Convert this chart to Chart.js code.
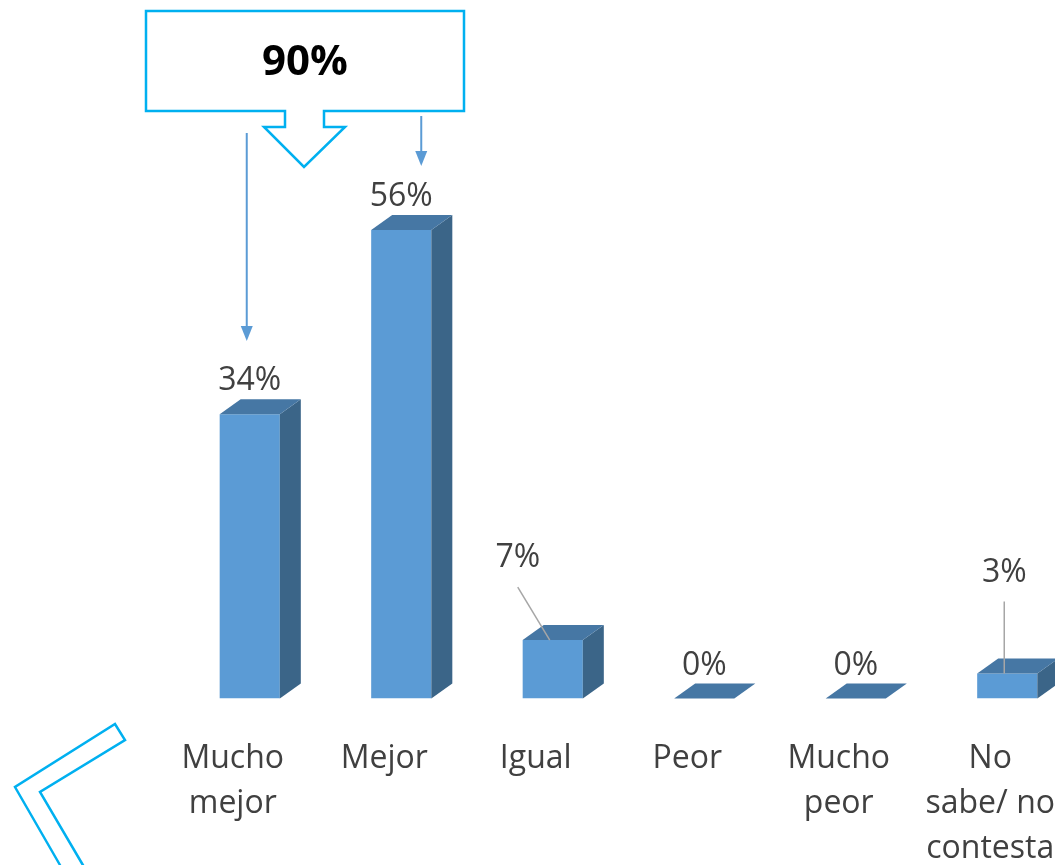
<!DOCTYPE html>
<html>
<head>
<meta charset="utf-8">
<script src="https://cdn.jsdelivr.net/npm/chart.js@4"></script>
<style>
    html, body { margin: 0; padding: 0; background: #ffffff; overflow: hidden; }
    #wrap { position: relative; width: 1055px; height: 865px; overflow: hidden; }
    #opinion-chart { position: absolute; left: 0; top: 0; }
</style>
</head>
<body>
<div id="wrap">
    <canvas id="opinion-chart" width="1110" height="909"></canvas>
</div>
<script>
// Categories and percentages
const categories = [
    ['Mucho', 'mejor'],
    'Mejor',
    'Igual',
    'Peor',
    ['Mucho', 'peor'],
    ['No', 'sabe/ no', 'contesta']
];
const percentages = [34, 56, 7, 0, 0, 3];

// Callout sums the two positive answers
const calloutValue = percentages[0] + percentages[1];

const FRONT = '#5b9bd5';
const SIDE = '#3b6588';
const TOP = '#4677a4';
const TEXT = '#404040';
const CYAN = '#00b0f0';
const DEPTH_X = 21;
const DEPTH_Y = 15;

// labels that sit higher with a leader line: [dx, extra lift]
const raisedLabels = { 2: [-35, 49], 5: [-3, 68] };

const bars3d = {
    id: 'bars3d',
    afterDatasetsDraw: function(chart) {
        const ctx = chart.ctx;
        const meta = chart.getDatasetMeta(0);
        ctx.save();
        meta.data.forEach(function(bar, i) {
            const p = bar.getProps(['x', 'y', 'base', 'width'], true);
            const left = p.x - p.width / 2;
            const right = p.x + p.width / 2;
            const top = Math.min(p.y, p.base);
            const bottom = p.base;

            // side face
            if (bottom - top > 0.5) {
                ctx.fillStyle = SIDE;
                ctx.beginPath();
                ctx.moveTo(right, top);
                ctx.lineTo(right + DEPTH_X, top - DEPTH_Y);
                ctx.lineTo(right + DEPTH_X, bottom - DEPTH_Y);
                ctx.lineTo(right, bottom);
                ctx.closePath();
                ctx.fill();
            }

            // top face
            ctx.fillStyle = TOP;
            ctx.beginPath();
            ctx.moveTo(left, top);
            ctx.lineTo(left + DEPTH_X, top - DEPTH_Y);
            ctx.lineTo(right + DEPTH_X, top - DEPTH_Y);
            ctx.lineTo(right, top);
            ctx.closePath();
            ctx.fill();

            // value label
            const shift = raisedLabels[i] || [0, 0];
            const lx = p.x + shift[0];
            const ly = top - 33 - shift[1];
            ctx.fillStyle = TEXT;
            ctx.font = '32px "Open Sans"';
            ctx.textAlign = 'center';
            ctx.textBaseline = 'middle';
            ctx.fillText(percentages[i] + '%', lx, ly);

            if (raisedLabels[i]) {
                ctx.strokeStyle = '#a6a6a6';
                ctx.lineWidth = 1.5;
                ctx.beginPath();
                ctx.moveTo(lx, ly + 29);
                ctx.lineTo(p.x - 3, top);
                ctx.stroke();
            }
        });
        ctx.restore();
    }
};

function arrowDown(ctx, x, y1, y2) {
    ctx.strokeStyle = FRONT;
    ctx.fillStyle = FRONT;
    ctx.lineWidth = 2;
    ctx.beginPath();
    ctx.moveTo(x, y1);
    ctx.lineTo(x, y2 - 12);
    ctx.stroke();
    ctx.beginPath();
    ctx.moveTo(x - 6, y2 - 15);
    ctx.lineTo(x + 6, y2 - 15);
    ctx.lineTo(x, y2);
    ctx.closePath();
    ctx.fill();
}

// callout box, arrows and corner chevron
const decorations = {
    id: 'decorations',
    afterDraw: function(chart) {
        const ctx = chart.ctx;
        const meta = chart.getDatasetMeta(0);
        const b1 = meta.data[0];
        const b2 = meta.data[1];
        ctx.save();

        ctx.strokeStyle = CYAN;
        ctx.lineWidth = 2.5;
        ctx.lineJoin = 'miter';
        ctx.fillStyle = '#ffffff';
        ctx.beginPath();
        ctx.moveTo(146, 11);
        ctx.lineTo(464, 11);
        ctx.lineTo(464, 111);
        ctx.lineTo(324, 111);
        ctx.lineTo(324, 127);
        ctx.lineTo(345, 127);
        ctx.lineTo(304, 167);
        ctx.lineTo(264, 127);
        ctx.lineTo(285, 127);
        ctx.lineTo(285, 111);
        ctx.lineTo(146, 111);
        ctx.closePath();
        ctx.fill();
        ctx.stroke();

        ctx.fillStyle = '#000000';
        ctx.font = 'bold 42px "Open Sans"';
        ctx.textAlign = 'center';
        ctx.textBaseline = 'middle';
        ctx.fillText(calloutValue + '%', 305, 63);

        arrowDown(ctx, b1.x - 3, 133, 341);
        arrowDown(ctx, b2.x + 20, 116, 166);

        ctx.strokeStyle = CYAN;
        ctx.lineWidth = 2.5;
        ctx.beginPath();
        ctx.moveTo(64, 872);
        ctx.lineTo(15, 787);
        ctx.lineTo(115, 724);
        ctx.lineTo(125, 740);
        ctx.lineTo(40, 792);
        ctx.lineTo(87, 872);
        ctx.stroke();

        ctx.restore();
    }
};

const ctx = document.getElementById('opinion-chart').getContext('2d');
new Chart(ctx, {
    type: 'bar',
    data: {
        labels: categories,
        datasets: [{
            data: percentages,
            backgroundColor: FRONT,
            borderWidth: 0,
            categoryPercentage: 1,
            barPercentage: 0.397
        }]
    },
    options: {
        responsive: false,
        animation: false,
        layout: {
            padding: { left: 174, right: 0, top: 0, bottom: 0 }
        },
        scales: {
            x: {
                grid: { display: false, drawTicks: false },
                border: { display: false },
                ticks: {
                    color: TEXT,
                    font: { family: 'Open Sans', size: 32, lineHeight: 1.4 },
                    padding: 38,
                    labelOffset: -17,
                    maxRotation: 0,
                    autoSkip: false
                }
            },
            y: {
                display: false,
                min: 0,
                max: 83.5
            }
        },
        plugins: {
            legend: { display: false },
            tooltip: { enabled: false }
        }
    },
    plugins: [bars3d, decorations]
});
</script>
</body>
</html>
